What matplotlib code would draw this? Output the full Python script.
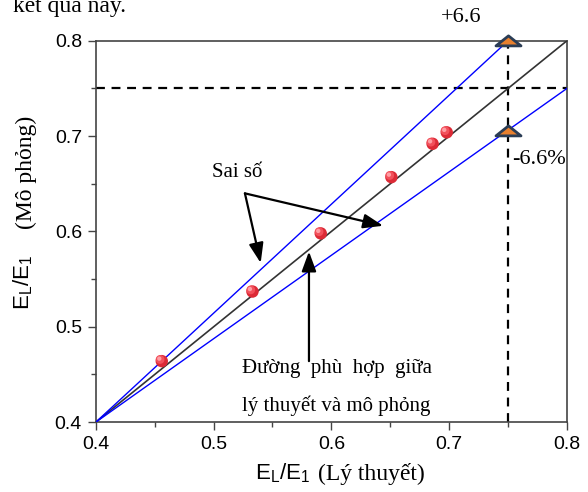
import numpy as np
import matplotlib.pyplot as plt
from matplotlib.path import Path
from matplotlib.transforms import ScaledTranslation

# Số liệu
ly_thuyet = [0.456, 0.533, 0.591, 0.651, 0.686, 0.698]
mo_phong = [0.464, 0.537, 0.598, 0.657, 0.692, 0.704]

duong_khop_x = [0.4, 0.8]
duong_khop_y = [0.4, 0.8]
sai_so_tren_x = [0.4, 0.75]
sai_so_tren_y = [0.4, 0.8]
sai_so_duoi_x = [0.4, 0.8]
sai_so_duoi_y = [0.4, 0.75]

moc_x = [0.75, 0.75]
moc_y = [0.8, 0.705]

ticks = [0.4, 0.5, 0.6, 0.7, 0.8]
minor_ticks = [0.45, 0.55, 0.65, 0.75]

SERIF = 'Liberation Serif'
SANS = 'Liberation Sans'


def main():
    plt.rcParams['font.family'] = SANS
    fig = plt.figure(figsize=(5.88, 4.92), dpi=100)
    ax = fig.add_axes([0.163, 0.142, 0.801, 0.775])

    ax.plot(duong_khop_x, duong_khop_y, color='#333333', lw=1.2, zorder=3)
    ax.plot(sai_so_tren_x, sai_so_tren_y, color='#0000ff', lw=1.0, zorder=3)
    ax.plot(sai_so_duoi_x, sai_so_duoi_y, color='#0000ff', lw=1.0, zorder=3)

    # đường nét đứt tại 0.75
    ax.axhline(0.75, color='black', lw=1.6, ls=(0, (4, 3)), zorder=2)
    ax.axvline(0.75, color='black', lw=1.6, ls=(0, (4, 3)), zorder=2)

    # điểm mô phỏng (quả cầu đỏ có ánh sáng ở góc trên trái)
    dich = ax.transData + ScaledTranslation(-1.2 / 72, 1.2 / 72, fig.dpi_scale_trans)
    dich2 = ax.transData + ScaledTranslation(-1.8 / 72, 1.8 / 72, fig.dpi_scale_trans)
    ax.scatter(ly_thuyet, mo_phong, s=80, color='#dc2a36', edgecolor='none', zorder=5)
    ax.scatter(ly_thuyet, mo_phong, s=40, color='#f2505b', edgecolor='none',
               zorder=6, transform=dich)
    ax.scatter(ly_thuyet, mo_phong, s=10, color='#ff9ea4', edgecolor='none',
               zorder=7, transform=dich2)

    tam_giac = Path([(-1.0, -0.35), (1.0, -0.35), (0.0, 0.45), (-1.0, -0.35)],
                    [Path.MOVETO, Path.LINETO, Path.LINETO, Path.CLOSEPOLY])
    ax.plot(moc_x, moc_y, ls='none', marker=tam_giac, markersize=18,
            markerfacecolor='#e8802e', markeredgecolor='#2b3d55',
            markeredgewidth=2.0, clip_on=False, zorder=8)

    ax.set_xlim(0.4, 0.8)
    ax.set_ylim(0.4, 0.8)
    ax.set_xticks(ticks)
    ax.set_yticks(ticks)
    ax.set_xticks(minor_ticks, minor=True)
    ax.set_yticks(minor_ticks, minor=True)
    ax.set_xticklabels(['0.4', '0.5', '0.6', '0.7', '0.8'])
    ax.set_yticklabels(['0.4', '0.5', '0.6', '0.7', '0.8'])
    ax.tick_params(which='major', direction='out', length=6, width=1.0,
                   labelsize=14, color='#444444', pad=4)
    ax.tick_params(which='minor', direction='out', length=3.5, width=1.0,
                   color='#444444')
    for sp in ax.spines.values():
        sp.set_color('#444444')
        sp.set_linewidth(1.2)

    # nhãn trục x
    ax.text(0.535, 0.346, r'$\mathregular{E_L/E_1}$', fontsize=16,
            ha='left', va='center', clip_on=False)
    ax.text(0.5885, 0.346, '(Lý thuyết)', family=SERIF, fontsize=17,
            ha='left', va='center', clip_on=False)
    # nhãn trục y
    fig.text(0.040, 1 - 282 / 492, r'$\mathregular{E_L/E_1}$', fontsize=16,
             rotation=90, ha='center', va='center')
    fig.text(0.045, 1 - 172 / 492, '(Mô phỏng)', family=SERIF, fontsize=17,
             rotation=90, ha='center', va='center')

    # chú thích
    ax.text(0.52, 0.662, 'Sai số', family=SERIF, fontsize=15,
            ha='center', va='center')
    kieu_mui_ten = dict(arrowstyle='-|>,head_length=0.6,head_width=0.22',
                        mutation_scale=20, lw=1.6, color='black',
                        shrinkA=0, shrinkB=0)
    ax.annotate('', xy=(0.540, 0.567), xytext=(0.5266, 0.640),
                arrowprops=kieu_mui_ten)
    ax.annotate('', xy=(0.644, 0.606), xytext=(0.5266, 0.640),
                arrowprops=kieu_mui_ten)
    ax.annotate('', xy=(0.581, 0.579), xytext=(0.581, 0.464),
                arrowprops=kieu_mui_ten)
    ax.text(0.524, 0.456, 'Đường  phù  hợp  giữa', family=SERIF, fontsize=15,
            ha='left', va='center')
    ax.text(0.524, 0.417, 'lý thuyết và mô phỏng', family=SERIF, fontsize=15,
            ha='left', va='center')

    fig.text(461 / 588, 1 - 18 / 492, '+6.6', family=SERIF, fontsize=16,
             ha='center', va='center')
    fig.text(512 / 588, 1 - 160 / 492, '-6.6%', family=SERIF, fontsize=16,
             ha='left', va='center')

    # dòng chữ bị cắt ở đầu trang (như trong ảnh gốc)
    fig.text(13 / 588, 1 - 12 / 492, 'kết quả này.', family=SERIF, fontsize=17,
             ha='left', va='baseline')

    fig.savefig('out.png', dpi=100)


if __name__ == '__main__':
    main()
